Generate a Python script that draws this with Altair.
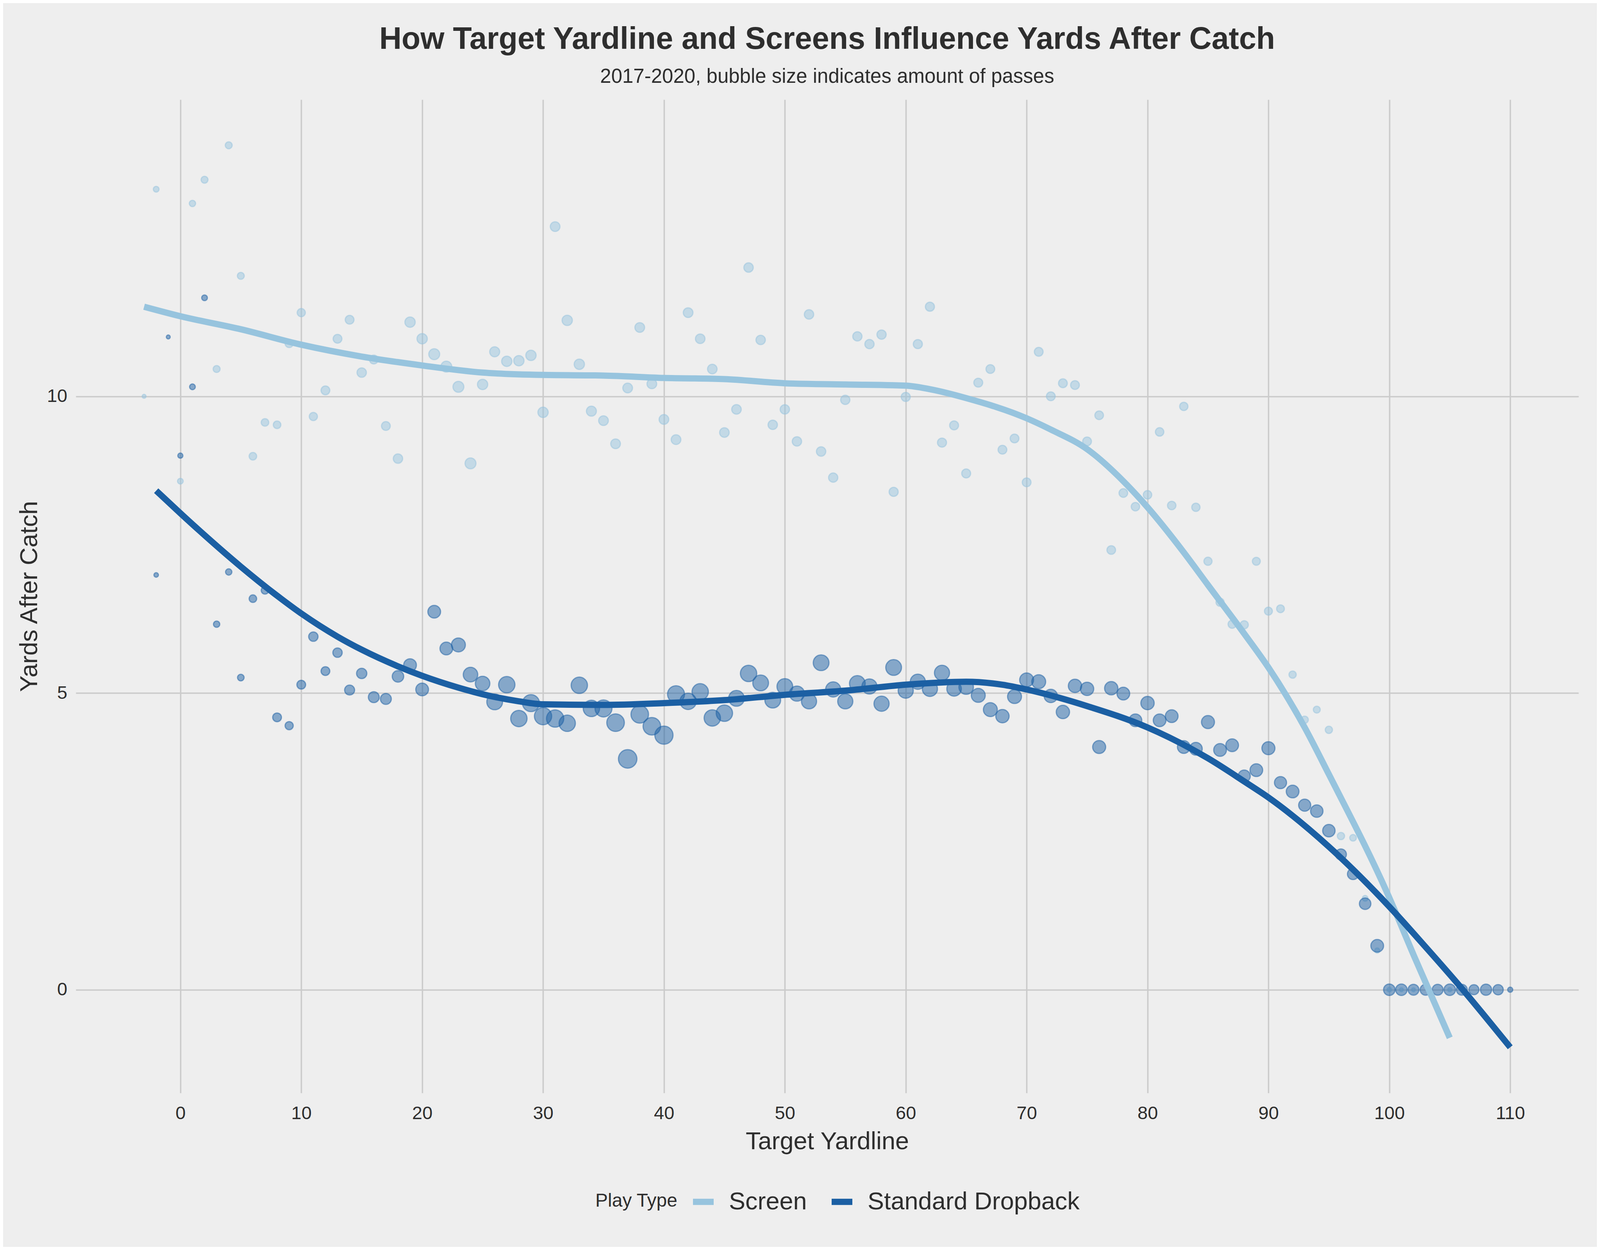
import altair as alt
import pandas as pd

# ---------------- data ----------------
screen_x = [-3, -2] + list(range(0, 103)) + [105]
screen_yac = [
    10.00, 13.49,
    8.57, 13.25, 13.65, 10.46, 14.23, 12.03, 8.99, 9.56, 9.52, 10.89,
    11.41, 9.66, 10.10, 10.97, 11.29, 10.40, 10.62, 9.50, 8.95, 11.25,
    10.97, 10.71, 10.50, 10.16, 8.87, 10.20, 10.75, 10.59, 10.60, 10.69,
    9.73, 12.86, 11.28, 10.54, 9.75, 9.59, 9.20, 10.14, 11.16, 10.21,
    9.61, 9.27, 11.41, 10.97, 10.46, 9.39, 9.78, 12.17, 10.95, 9.52,
    9.78, 9.24, 11.38, 9.07, 8.63, 9.94, 11.01, 10.88, 11.04, 8.39,
    9.99, 10.88, 11.51, 9.22, 9.51, 8.70, 10.23, 10.46, 9.10, 9.29,
    8.55, 10.75, 10.00, 10.22, 10.19, 9.24, 9.68, 7.41, 8.37, 8.14,
    8.34, 9.40, 8.16, 9.83, 8.13, 7.22, 6.53, 6.16, 6.15, 7.22,
    6.38, 6.42, 5.31, 4.55, 4.72, 4.38, 2.59, 2.56, 1.54, 0.66,
    0.00, 0.00, 0.00,
    0.00,
]
screen_passes = [
    56, 120,
    120, 147, 176, 176, 176, 176, 208, 208, 208, 243,
    243, 243, 280, 280, 280, 320, 280, 280, 320, 385,
    385, 432, 432, 432, 432, 385, 363, 385, 385, 385,
    385, 341, 385, 385, 363, 341, 341, 341, 341, 341,
    341, 341, 341, 330, 330, 330, 330, 320, 320, 320,
    320, 320, 320, 320, 310, 310, 310, 310, 310, 300,
    300, 300, 300, 300, 290, 290, 290, 280, 280, 280,
    280, 280, 280, 280, 280, 280, 270, 270, 270, 260,
    260, 260, 260, 250, 250, 243, 243, 243, 243, 230,
    230, 220, 192, 192, 176, 192, 192, 161, 120, 96,
    75, 56, 56,
    65,
]

drop_x = list(range(-2, 111))
drop_yac = [
    6.99, 11.00,
    9.00, 10.16, 11.66, 6.16, 7.04, 5.26, 6.59, 6.73, 4.59, 4.45,
    5.14, 5.95, 5.37, 5.68, 5.05, 5.33, 4.93, 4.90, 5.28, 5.47,
    5.06, 6.37, 5.75, 5.81, 5.31, 5.16, 4.85, 5.14, 4.57, 4.83,
    4.61, 4.57, 4.49, 5.13, 4.74, 4.74, 4.50, 3.89, 4.64, 4.44,
    4.29, 4.98, 4.86, 5.02, 4.58, 4.66, 4.91, 5.33, 5.17, 4.88,
    5.11, 4.99, 4.86, 5.51, 5.06, 4.86, 5.16, 5.11, 4.82, 5.43,
    5.04, 5.19, 5.07, 5.34, 5.07, 5.10, 4.96, 4.72, 4.61, 4.94,
    5.22, 5.19, 4.95, 4.68, 5.12, 5.07, 4.09, 5.08, 4.99, 4.54,
    4.83, 4.54, 4.61, 4.09, 4.06, 4.51, 4.04, 4.12, 3.60, 3.70,
    4.07, 3.49, 3.34, 3.11, 3.01, 2.68, 2.28, 1.95, 1.45, 0.74,
    0.00, 0.00, 0.00, 0.00, 0.00, 0.00, 0.00, 0.00, 0.00, 0.00,
    0.00,
]
drop_passes = [
    75, 56,
    96, 120, 120, 147, 147, 161, 208, 208, 280, 243,
    280, 320, 280, 320, 363, 385, 432, 432, 481, 588,
    588, 588, 588, 705, 768, 768, 901, 972, 972, 1045,
    1083, 1083, 972, 972, 972, 1045, 1121, 1240, 1121, 1121,
    1200, 1045, 972, 972, 972, 972, 901, 972, 901, 901,
    901, 833, 833, 901, 833, 833, 901, 833, 833, 901,
    833, 833, 833, 833, 768, 768, 705, 705, 645, 705,
    705, 705, 645, 645, 645, 645, 616, 645, 588, 588,
    645, 588, 588, 588, 588, 616, 588, 588, 533, 588,
    616, 533, 588, 533, 560, 560, 432, 456, 481, 588,
    481, 481, 432, 432, 432, 481, 432, 363, 456, 385,
    96,
]

# smoothed trend lines
screen_curve_x = [-3, 0, 5, 10, 15, 20, 25, 30, 35, 40, 45, 50, 55, 60, 62,
                  65, 70, 72, 75, 78, 80, 83, 85, 88, 90, 93, 95, 100, 102, 105]
screen_curve_y = [11.51, 11.35, 11.13, 10.87, 10.67, 10.52, 10.40, 10.36, 10.35,
                  10.31, 10.29, 10.22, 10.20, 10.18, 10.12, 9.97, 9.63, 9.44,
                  9.11, 8.57, 8.13, 7.37, 6.82, 6.00, 5.43, 4.42, 3.63, 1.55,
                  0.59, -0.81]
drop_curve_x = [-2, 0, 2, 5, 8, 10, 13, 15, 18, 20, 23, 25, 28, 30, 35, 40, 45,
                50, 55, 60, 65, 68, 70, 75, 80, 85, 88, 90, 95, 100, 103, 106,
                108, 110]
drop_curve_y = [8.41, 8.03, 7.66, 7.13, 6.64, 6.34, 5.95, 5.73, 5.45, 5.29, 5.09,
                4.98, 4.86, 4.81, 4.80, 4.83, 4.88, 4.97, 5.04, 5.14, 5.19, 5.14,
                5.06, 4.78, 4.42, 3.90, 3.51, 3.24, 2.41, 1.40, 0.72, 0.02,
                -0.47, -0.97]

play_types = ["Screen", "Standard Dropback"]
x_ticks = list(range(0, 111, 10))
y_ticks = [0, 5, 10]

# ---------------- tables ----------------
points = pd.concat([
    pd.DataFrame({"yardline": screen_x, "yac": screen_yac,
                  "passes": screen_passes, "play_type": play_types[0]}),
    pd.DataFrame({"yardline": drop_x, "yac": drop_yac,
                  "passes": drop_passes, "play_type": play_types[1]}),
], ignore_index=True)

curves = pd.concat([
    pd.DataFrame({"yardline": screen_curve_x, "yac": screen_curve_y,
                  "play_type": play_types[0]}),
    pd.DataFrame({"yardline": drop_curve_x, "yac": drop_curve_y,
                  "play_type": play_types[1]}),
], ignore_index=True)

# ---------------- style ----------------
FONT = "Liberation Sans"
TEXT = "#2e2e2e"
BG = "#eeeeee"
GRID = "#cbcbcb"
colors = ["#97c4de", "#1b5fa3"]

PLOT_W, PLOT_H = 3847, 2543

x_scale = alt.Scale(domain=[-8.65, 115.65], nice=False, zero=False)
y_scale = alt.Scale(domain=[-1.74, 15.0], nice=False, zero=False)

x_axis = alt.Axis(title="Target Yardline", values=x_ticks, grid=True, gridColor=GRID,
                  gridWidth=3.6, domain=False, ticks=False, labelFontSize=47,
                  labelFont=FONT, labelColor=TEXT, labelPadding=29,
                  titleFontSize=63, titleFont=FONT, titleColor=TEXT,
                  titleFontWeight="normal", titlePadding=18)
y_axis = alt.Axis(title="Yards After Catch", values=y_ticks, grid=True, gridColor=GRID,
                  gridWidth=3.6, domain=False, ticks=False, labelFontSize=47,
                  labelFont=FONT, labelColor=TEXT, labelPadding=22,
                  titleFontSize=63, titleFont=FONT, titleColor=TEXT,
                  titleFontWeight="normal", titlePadding=12)

color_scale = alt.Scale(domain=play_types, range=colors)

pts = alt.Chart(points).mark_circle(
    opacity=1, fillOpacity=0.5, strokeOpacity=0.5, strokeWidth=3
).encode(
    x=alt.X("yardline:Q", scale=x_scale, axis=x_axis),
    y=alt.Y("yac:Q", scale=y_scale, axis=y_axis),
    size=alt.Size("passes:Q", scale=alt.Scale(type="linear", domain=[0, 1240],
                                               range=[0, 2250]), legend=None),
    fill=alt.Fill("play_type:N", scale=color_scale, legend=None),
    stroke=alt.Stroke("play_type:N", scale=color_scale, legend=None),
)

lines = alt.Chart(curves).mark_line(
    strokeWidth=16, strokeCap="butt", interpolate="monotone"
).encode(
    x=alt.X("yardline:Q", scale=x_scale, axis=x_axis),
    y=alt.Y("yac:Q", scale=y_scale, axis=y_axis),
    stroke=alt.Stroke(
        "play_type:N", scale=color_scale,
        legend=alt.Legend(
            title="Play Type", orient="none", legendX=1330, legendY=2787,
            direction="horizontal", titleOrient="left", titleFontSize=48,
            titleFont=FONT, titleColor=TEXT, titleFontWeight="normal",
            titlePadding=31, titleBaseline="middle", titleAnchor="middle",
            titleLimit=2000, labelLimit=2000,
            labelFontSize=63, labelFont=FONT, labelColor=TEXT, labelOffset=31,
            columnPadding=31, symbolType="stroke", symbolStrokeWidth=16,
            symbolSize=2809, symbolOpacity=1,
        ),
    ),
)

chart = alt.layer(pts, lines).resolve_legend(stroke="independent").properties(
    width=PLOT_W,
    height=PLOT_H,
    title=alt.TitleParams(
        text="How Target Yardline and Screens Influence Yards After Catch",
        subtitle="2017-2020, bubble size indicates amount of passes",
        font=FONT, fontSize=79, fontWeight="bold", color=TEXT,
        subtitleFont=FONT, subtitleFontSize=51, subtitleColor=TEXT,
        anchor="middle", frame="group", offset=32, subtitlePadding=30,
    ),
    autosize=alt.AutoSizeParams(type="none"),
    padding={"left": 186, "top": 247, "right": 47, "bottom": 394},
    background=BG,
).configure_view(stroke=None, fill=BG)

chart.save("out.html", embed_options={"renderer": "svg", "actions": False})
